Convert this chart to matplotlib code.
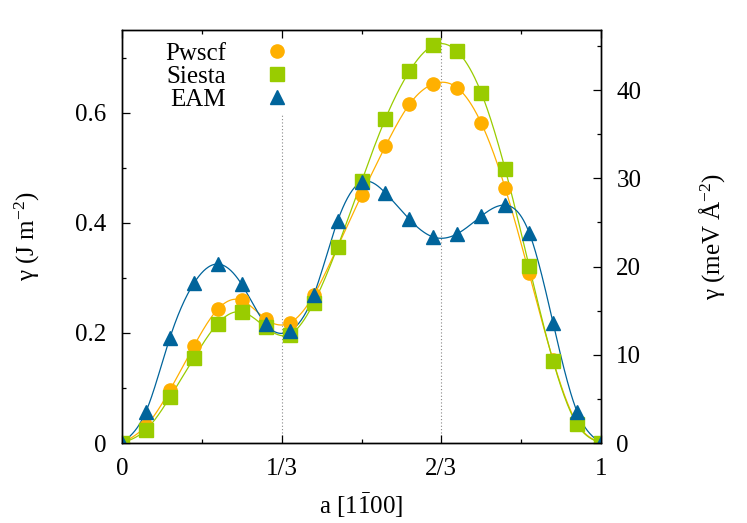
import numpy as np
import matplotlib
matplotlib.use("Agg")
import matplotlib.pyplot as plt
from matplotlib.ticker import MultipleLocator, FixedLocator

plt.rcParams['font.family'] = ['Liberation Serif', 'DejaVu Serif']
plt.rcParams['mathtext.fontset'] = 'custom'
plt.rcParams['mathtext.rm'] = 'Liberation Serif'
plt.rcParams['mathtext.it'] = 'Liberation Serif:italic'

# ---- data ----
a = [0.00, 0.05, 0.10, 0.15, 0.20, 0.25, 0.30, 0.35, 0.40, 0.45, 0.50,
     0.55, 0.60, 0.65, 0.70, 0.75, 0.80, 0.85, 0.90, 0.95, 1.00]
pwscf = [0.000, 0.031, 0.096, 0.176, 0.243, 0.259, 0.225, 0.218, 0.268, 0.356, 0.450,
         0.539, 0.615, 0.652, 0.645, 0.581, 0.463, 0.308, 0.150, 0.036, 0.000]
siesta = [0.000, 0.024, 0.083, 0.154, 0.217, 0.238, 0.210, 0.197, 0.254, 0.356, 0.475,
          0.589, 0.675, 0.722, 0.711, 0.636, 0.497, 0.321, 0.149, 0.034, 0.000]
eam = [0.000, 0.057, 0.191, 0.290, 0.325, 0.288, 0.216, 0.203, 0.268, 0.403, 0.474,
       0.454, 0.406, 0.374, 0.380, 0.412, 0.432, 0.382, 0.218, 0.057, 0.000]
labels = ['Pwscf', 'Siesta', 'EAM']
xtick_vals = [0, 1/3, 2/3, 1]
xtick_labels = ['0', '1/3', '2/3', '1']
conv = 62.415  # J/m^2 -> meV/A^2


def natural_spline(x, y, xs):
    x = np.asarray(x, float); y = np.asarray(y, float)
    n = len(x); h = np.diff(x)
    A = np.zeros((n, n)); r = np.zeros(n)
    A[0, 0] = 1; A[-1, -1] = 1
    for i in range(1, n - 1):
        A[i, i - 1] = h[i - 1]; A[i, i] = 2 * (h[i - 1] + h[i]); A[i, i + 1] = h[i]
        r[i] = 6 * ((y[i + 1] - y[i]) / h[i] - (y[i] - y[i - 1]) / h[i - 1])
    M = np.linalg.solve(A, r)
    idx = np.clip(np.searchsorted(x, xs) - 1, 0, n - 2)
    x0 = x[idx]; x1 = x[idx + 1]; hh = x1 - x0
    t0 = x1 - xs; t1 = xs - x0
    return (M[idx] * t0**3 / (6 * hh) + M[idx + 1] * t1**3 / (6 * hh)
            + (y[idx] / hh - M[idx] * hh / 6) * t0 + (y[idx + 1] / hh - M[idx + 1] * hh / 6) * t1)


fig = plt.figure(figsize=(7.47, 5.23), dpi=100)
ax = fig.add_axes([122/747, 80/523, 479/747, 413/523])

colors = ['#ffb000', '#99cc00', '#00649b']
markers = ['o', 's', '^']
sizes = [9.5, 9.5, 9.5]
xs = np.linspace(0, 1, 600)

ax.axvline(1/3, ymax=0.80, color='#888888', lw=0.8, ls=(0, (1, 2)), zorder=1)
ax.axvline(2/3, color='#888888', lw=0.8, ls=(0, (1, 2)), zorder=1)

handles = []
for data, c, m, ms, lab in zip([pwscf, siesta, eam], colors, markers, sizes, labels):
    ax.plot(xs, natural_spline(a, data, xs), color=c, lw=0.9, zorder=2)
    h, = ax.plot(a, data, ls='none', marker=m, ms=ms, color=c, mec=c, zorder=3, label=lab)
    handles.append(h)

FS = 18
ax.set_xlim(0, 1)
ax.set_ylim(0, 0.75)
ax.xaxis.set_major_locator(FixedLocator(xtick_vals))
ax.set_xticklabels(xtick_labels)
ax.xaxis.set_minor_locator(FixedLocator([1/6, 1/2, 5/6]))
ax.yaxis.set_major_locator(FixedLocator([0, 0.2, 0.4, 0.6]))
ax.set_yticklabels(['0', '0.2', '0.4', '0.6'])
ax.yaxis.set_minor_locator(FixedLocator([0.1, 0.3, 0.5, 0.7]))
ax.tick_params(which='both', direction='in', top=True, right=False, labelsize=FS, pad=11, width=0.9)
ax.tick_params(which='major', length=6)
ax.tick_params(which='minor', length=3)

ax2 = ax.twinx()
ax2.set_ylim(0, 0.75 * conv)
ax2.yaxis.set_major_locator(MultipleLocator(10))
ax2.yaxis.set_minor_locator(MultipleLocator(5))
ax2.tick_params(which='both', direction='in', labelsize=FS, pad=11, width=0.9)
ax2.tick_params(which='major', length=6)
ax2.tick_params(which='minor', length=3)

for axx in (ax, ax2):
    for s in axx.spines.values():
        s.set_linewidth(1.0)

ax.set_xlabel(r'a [1$\mathrm{\bar{1}}$00]', fontsize=FS, labelpad=8)
ax.set_ylabel(r'γ (J m$^{\mathrm{-2}}$)', fontsize=FS, labelpad=24)
ax2.set_ylabel(r'γ (meV Å$^{\mathrm{-2}}$)', fontsize=FS, labelpad=40)

leg = ax.legend(handles=handles, loc='upper left', bbox_to_anchor=(0.09, 0.97),
                frameon=False, markerfirst=False, fontsize=FS, handlelength=1.1,
                handletextpad=1.5, labelspacing=0.02, borderpad=0, borderaxespad=0)

fig.savefig('out.png', dpi=100)
